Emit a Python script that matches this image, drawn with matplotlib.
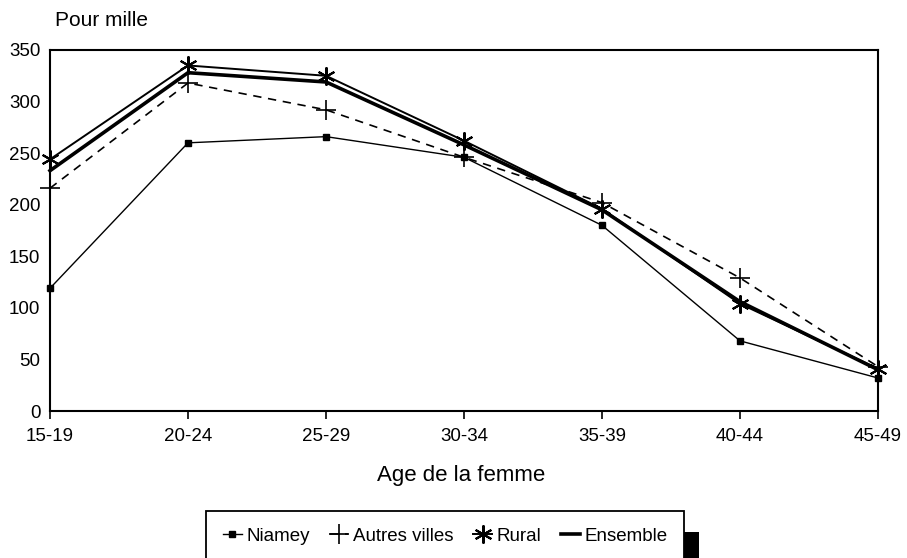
import matplotlib
matplotlib.use("Agg")
import matplotlib.pyplot as plt
from matplotlib.patches import Rectangle

plt.rcParams['font.family'] = ['Liberation Sans', 'DejaVu Sans']

ages = ["15-19", "20-24", "25-29", "30-34", "35-39", "40-44", "45-49"]
niamey = [119, 260, 266, 246, 180, 68, 32]
autres_villes = [216, 318, 292, 246, 202, 129, 43]
rural = [244, 335, 325, 262, 196, 104, 41]
ensemble = [233, 328, 319, 258, 195, 106, 40]

W, H = 907, 558
fig = plt.figure(figsize=(W/100, H/100), dpi=100)
ax = fig.add_axes([50/W, (H-411)/H, (878-50)/W, (411-50)/H])

x = list(range(len(ages)))
ax.plot(x, niamey, color='black', lw=1.0, marker='s', ms=4, label='Niamey')
ax.plot(x, autres_villes, color='black', lw=1.2, ls=(0, (5, 4)), marker='+', ms=15,
        mew=1.2, label='Autres villes')
ax.plot(x, rural, color='black', lw=1.4, marker=(6, 2, 0), ms=13, mew=1.5, label='Rural')
ax.plot(x, ensemble, color='black', lw=2.6, label='Ensemble')

ax.set_xlim(0, len(ages)-1)
ax.set_ylim(0, 350)
ax.set_yticks(range(0, 351, 50))
ax.set_xticks(x)
ax.set_xticklabels(ages)
ax.tick_params(axis='y', length=0, labelsize=13.5, pad=7)
ax.tick_params(axis='x', length=6, width=1.2, direction='out', labelsize=13.5, pad=6)
for s in ax.spines.values():
    s.set_linewidth(1.5)
    s.set_clip_on(False)
for ln in ax.lines:
    ln.set_clip_on(False)

fig.text(55/W, 1-20/H, "Pour mille", fontsize=15, va='center', ha='left')
fig.text(461/W, 1-475/H, "Age de la femme", fontsize=16, va='center', ha='center')

leg = fig.legend(loc='upper left', bbox_to_anchor=(206/W, 1-511/H), ncol=4,
                 frameon=True, fancybox=False, edgecolor='black', framealpha=1,
                 fontsize=13.5, handlelength=1.0, handletextpad=0.25, columnspacing=1.05,
                 borderpad=0.9, borderaxespad=0)
leg.get_frame().set_linewidth(1.3)
leg.set_zorder(2)

fig.canvas.draw()
bb = leg.get_window_extent()
fig.patches.append(Rectangle((bb.x1 / W, 0), 15 / W, (bb.y1 - 21) / H,
                             transform=fig.transFigure, facecolor='black',
                             edgecolor='none', zorder=0))

fig.savefig("out.png", dpi=100)
